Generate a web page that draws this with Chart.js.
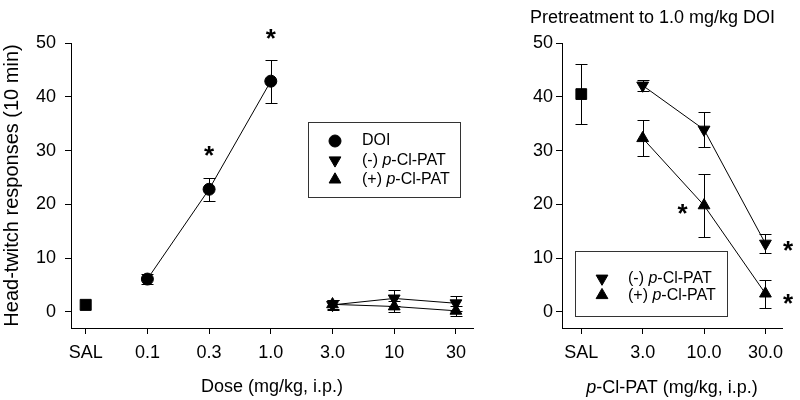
<!DOCTYPE html>
<html>
<head>
<meta charset="utf-8">
<script src="https://cdn.jsdelivr.net/npm/chart.js@4.4.0/dist/chart.umd.min.js"></script>
<style>
  body { margin: 0; background: #fff; }
  #wrap { position: relative; width: 800px; height: 400px; }
  #doseChart { position: absolute; left: 0; top: 0; width: 490px; height: 400px; }
  #pretreatChart { position: absolute; left: 490px; top: 0; width: 310px; height: 400px; }
</style>
</head>
<body>
<div id="wrap">
  <canvas id="doseChart" width="490" height="400"></canvas>
  <canvas id="pretreatChart" width="310" height="400"></canvas>
</div>
<script>
// tick labels
const doseLabels = ['SAL', '0.1', '0.3', '1.0', '3.0', '10', '30'];
const patLabels = ['SAL', '3.0', '10.0', '30.0'];

// left panel: dose response (mean, SEM)
const salDose = [1.3];
const doiX = [1, 2, 3];
const doiY = [6.1, 22.8, 42.9];
const doiErr = [1.0, 2.1, 4.0];
const patX = [4, 5, 6];
const negPatY = [1.3, 2.5, 1.6];
const negPatErr = [1.0, 1.5, 1.4];
const posPatY = [1.4, 1.0, 0.2];
const posPatErr = [0.9, 1.1, 0.9];
const starsDose = [[2, 30.3], [3, 52]];

// right panel: pretreatment to 1.0 mg/kg DOI
const salPre = [40.5];
const salPreErr = [5.6];
const preX = [1, 2, 3];
const negPreY = [42.1, 33.9, 12.7];
const negPreErr = [1.1, 3.2, 1.8];
const posPreY = [32.3, 19.8, 3.4];
const posPreErr = [3.3, 5.8, 2.6];
const starsPre = [[1.65, 19.5], [3.37, 12.7], [3.37, 2.7]];

const FONT = '"Liberation Sans", Arial, sans-serif';
Chart.defaults.font.family = FONT;
Chart.defaults.color = '#000';

const pts = (xs, ys) => xs.map((x, i) => ({x: x, y: ys[i]}));

// draw mixed text, italic "p" in p-Cl-PAT
function drawLabel(ctx, text, x, y, size) {
  const parts = text.split(/(p)(?=-Cl)/);
  parts.forEach(p => {
    if (!p) return;
    ctx.font = (p === 'p' ? 'italic ' : '') + size + 'px ' + FONT;
    ctx.fillText(p, x, y);
    x += ctx.measureText(p).width;
  });
}
function labelWidth(ctx, text, size) {
  let w = 0;
  text.split(/(p)(?=-Cl)/).forEach(p => {
    if (!p) return;
    ctx.font = (p === 'p' ? 'italic ' : '') + size + 'px ' + FONT;
    w += ctx.measureText(p).width;
  });
  return w;
}

const errorBars = {
  id: 'errorBars',
  beforeDatasetsDraw(chart) {
    const ctx = chart.ctx, ys = chart.scales.y;
    ctx.save();
    ctx.strokeStyle = '#000';
    ctx.lineWidth = 1;
    chart.data.datasets.forEach((ds, di) => {
      if (!ds.err) return;
      chart.getDatasetMeta(di).data.forEach((pt, i) => {
        const e = ds.err[i];
        if (!e) return;
        const v = ds.data[i].y;
        const top = Math.round(ys.getPixelForValue(v + e)) + 0.5;
        const bot = Math.round(ys.getPixelForValue(v - e)) + 0.5;
        const x = Math.round(pt.x) + 0.5;
        ctx.beginPath();
        ctx.moveTo(x, top); ctx.lineTo(x, bot);
        ctx.moveTo(x - 6, top); ctx.lineTo(x + 6, top);
        ctx.moveTo(x - 6, bot); ctx.lineTo(x + 6, bot);
        ctx.stroke();
      });
    });
    ctx.restore();
  }
};

const extras = {
  id: 'extras',
  afterDraw(chart, args, opts) {
    const ctx = chart.ctx;
    ctx.save();
    ctx.fillStyle = '#000';
    ctx.strokeStyle = '#000';
    // asterisks
    ctx.font = 'bold 26px ' + FONT;
    ctx.textAlign = 'center';
    ctx.textBaseline = 'alphabetic';
    (opts.stars || []).forEach(s => {
      const x = chart.scales.x.getPixelForValue(s[0]);
      const y = chart.scales.y.getPixelForValue(s[1]);
      ctx.fillText('*', x, y + 15);
    });
    // legend box
    const lg = opts.legend;
    if (lg) {
      ctx.strokeStyle = '#333';
      ctx.lineWidth = 1;
      ctx.strokeRect(lg.x + 0.5, lg.y + 0.5, lg.w, lg.h);
      ctx.strokeStyle = '#000';
      ctx.textAlign = 'left';
      ctx.textBaseline = 'middle';
      let row = 0;
      chart.data.datasets.forEach(ds => {
        if (!ds.inLegend) return;
        const y = lg.y + lg.first + row * lg.gap;
        Chart.helpers.drawPoint(ctx, {
          pointStyle: ds.pointStyle, radius: ds.pointRadius,
          rotation: ds.pointRotation || 0, borderWidth: 1
        }, lg.markerX, y);
        drawLabel(ctx, ds.label, lg.textX, y, 16);
        row++;
      });
    }
    // custom axis title
    if (opts.xTitle) {
      const ca = chart.chartArea;
      ctx.textAlign = 'left';
      ctx.textBaseline = 'middle';
      const w = labelWidth(ctx, opts.xTitle, 18);
      drawLabel(ctx, opts.xTitle, (ca.left + ca.right) / 2 - w / 2, opts.xTitleY, 18);
    }
    if (opts.title) {
      ctx.textAlign = 'left';
      ctx.textBaseline = 'alphabetic';
      ctx.font = '18px ' + FONT;
      ctx.fillText(opts.title, opts.titleX, opts.titleY);
    }
    ctx.restore();
  }
};

function axes(labels, xmin, xmax, yWidth, yPad, yTitle, xTitle) {
  return {
    x: {
      type: 'linear', min: xmin, max: xmax,
      afterFit: s => { s.height = 72; },
      border: {display: true, color: '#000', width: 1},
      grid: {drawOnChartArea: false, drawTicks: true, tickLength: 6, color: '#000'},
      ticks: {stepSize: 1, includeBounds: false, padding: 8, font: {size: 18},
        callback: v => labels[v] !== undefined ? labels[v] : ''},
      title: xTitle ? {display: true, text: xTitle, font: {size: 18}, padding: {top: 0, bottom: 2}} : {display: false}
    },
    y: {
      type: 'linear', min: -3, max: 50,
      afterFit: s => { s.width = yWidth; },
      border: {display: true, color: '#000', width: 1},
      grid: {drawOnChartArea: false, drawTicks: true, tickLength: 6, color: '#000'},
      ticks: {stepSize: 10, includeBounds: false, padding: yPad, font: {size: 18}},
      title: yTitle ? {display: true, text: yTitle, font: {size: 20}, padding: {top: 0, bottom: 0}} : {display: false}
    }
  };
}

const common = {
  responsive: false,
  animation: false,
  events: [],
  plugins: {legend: {display: false}, tooltip: {enabled: false}}
};

function series(label, xs, ys, err, style, radius, rot, line, inLegend) {
  return {
    label: label, data: pts(xs, ys), err: err,
    pointStyle: style, pointRadius: radius, pointRotation: rot,
    backgroundColor: '#000', borderColor: '#000', borderWidth: 1,
    pointBackgroundColor: '#000', pointBorderColor: '#000', pointBorderWidth: 1,
    showLine: line, tension: 0, inLegend: inLegend
  };
}

new Chart(document.getElementById('doseChart'), {
  type: 'scatter',
  data: {datasets: [
    series('SAL', [0], salDose, null, 'rect', 7.8, 0, false, false),
    series('DOI', doiX, doiY, doiErr, 'circle', 6, 0, true, true),
    series('(-) p-Cl-PAT', patX, negPatY, negPatErr, 'triangle', 6.8, 180, true, true),
    series('(+) p-Cl-PAT', patX, posPatY, posPatErr, 'triangle', 6.8, 0, true, true)
  ]},
  options: Object.assign({}, common, {
    layout: {padding: {left: 0, right: 17, top: 43, bottom: 0}},
    scales: axes(doseLabels, -0.238, 6.277, 71, 9, 'Head-twitch responses (10 min)', 'Dose (mg/kg, i.p.)'),
    plugins: Object.assign({}, common.plugins, {
      extras: {
        stars: starsDose,
        legend: {x: 308, y: 122, w: 152, h: 75, first: 19, gap: 19.3, markerX: 335, textX: 362}
      }
    })
  }),
  plugins: [errorBars, extras]
});

new Chart(document.getElementById('pretreatChart'), {
  type: 'scatter',
  data: {datasets: [
    series('SAL', [0], salPre, salPreErr, 'rect', 7.6, 0, false, false),
    series('(-) p-Cl-PAT', preX, negPreY, negPreErr, 'triangle', 6.8, 180, true, true),
    series('(+) p-Cl-PAT', preX, posPreY, posPreErr, 'triangle', 6.8, 0, true, true)
  ]},
  options: Object.assign({}, common, {
    layout: {padding: {left: 0, right: 18, top: 43, bottom: 0}},
    scales: axes(patLabels, -0.314, 3.27, 72, 3, null, null),
    plugins: Object.assign({}, common.plugins, {
      extras: {
        stars: starsPre,
        legend: {x: 85, y: 251, w: 152, h: 65, first: 27.5, gap: 16.7, markerX: 112, textX: 138},
        xTitle: 'p-Cl-PAT (mg/kg, i.p.)', xTitleY: 388,
        title: 'Pretreatment to 1.0 mg/kg DOI', titleX: 40, titleY: 23
      }
    })
  }),
  plugins: [errorBars, extras]
});
</script>
</body>
</html>
